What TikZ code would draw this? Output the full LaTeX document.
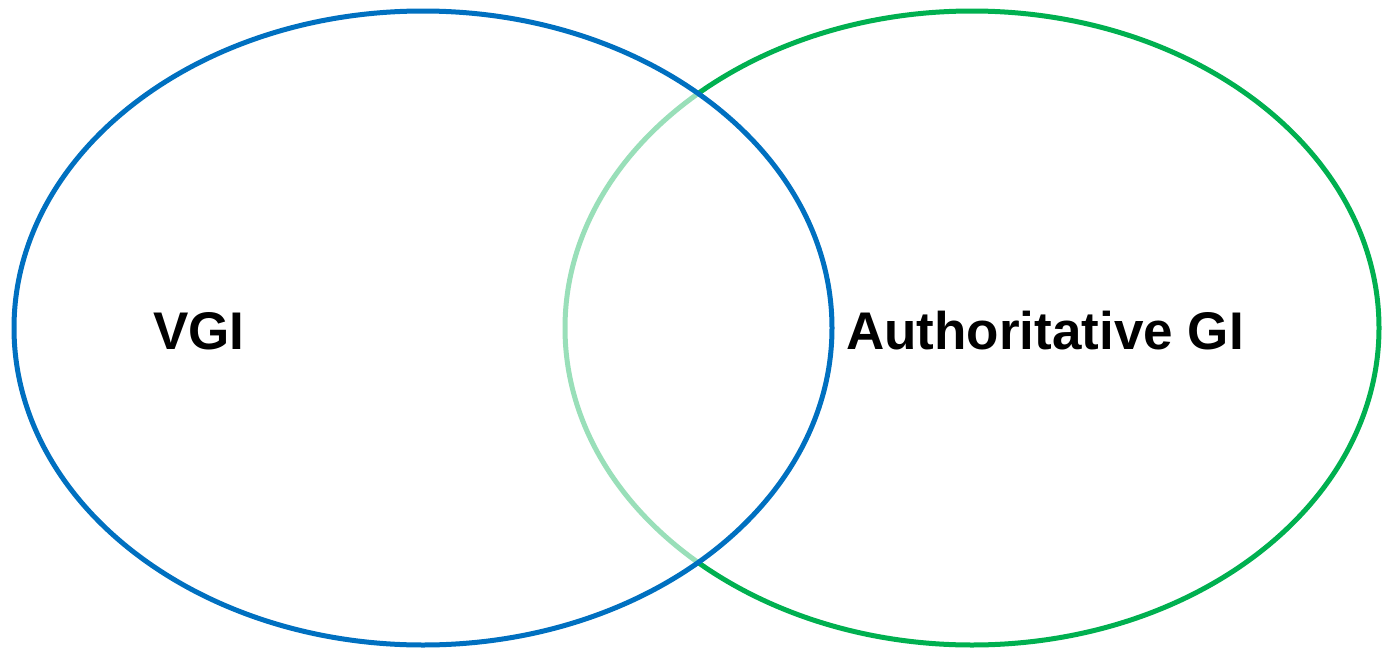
\documentclass[tikz,border=0pt]{standalone}
\usepackage{fontspec}
\setmainfont{Liberation Sans}
\definecolor{vgiblue}{RGB}{0,112,192}
\definecolor{agigreen}{RGB}{0,176,80}
\begin{document}
\begin{tikzpicture}[x=1pt,y=-1pt,
  setring/.style={line width=5pt},
  setlabel/.style={font=\fontsize{53}{60}\selectfont\bfseries, inner sep=0pt, anchor=center}]
\useasboundingbox (0,0) rectangle (1382,651);
% Authoritative GI set (drawn first, partly veiled by the VGI set)
\draw[setring, agigreen] (972,328) ellipse [x radius=407, y radius=317];
% VGI set with a translucent white fill
\draw[setring, vgiblue, fill=white, fill opacity=0.6] (423,328) ellipse [x radius=409, y radius=317];
\node[setlabel] (vgi) at (199,331) {VGI};
\node[setlabel] (agi) at (1045,331) {Authoritative GI};
\end{tikzpicture}
\end{document}
